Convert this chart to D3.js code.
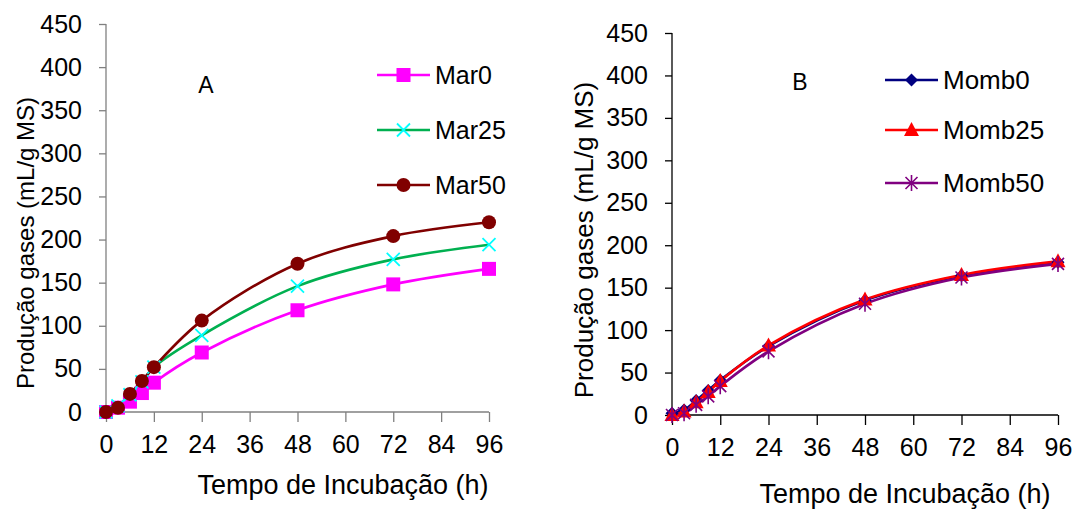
<!DOCTYPE html>
<html><head><meta charset="utf-8">
<script src="https://cdn.jsdelivr.net/npm/d3@7"></script>
<style>body{margin:0;background:#fff}svg{font-family:"Liberation Sans",Arial,sans-serif}</style>
</head><body>
<svg id="c" width="1077" height="519"></svg>
<script>
const times = [0, 3, 6, 9, 12, 24, 48, 72, 96];
const xTicks = [0, 12, 24, 36, 48, 60, 72, 84, 96];
const yTicks = [0, 50, 100, 150, 200, 250, 300, 350, 400, 450];
const mar0 = [0, 5, 12, 22, 34, 69, 118, 148, 166];
const mar25 = [0, 7, 20, 35, 52, 89, 146, 177, 194];
const mar50 = [0, 5, 21, 36, 52, 106, 172, 204, 220];
const momb0 = [2, 6, 17, 29, 41, 81, 135, 164, 180];
const momb25 = [0, 4, 15, 27, 40, 82, 136, 165, 181];
const momb50 = [0, 2, 12, 22, 34, 75, 131, 162, 178];
const seriesA = ["Mar0", "Mar25", "Mar50"];
const seriesB = ["Momb0", "Momb25", "Momb50"];
const yTitle = "Produção gases (mL/g MS)";
const xTitle = "Tempo de Incubação (h)";

const svg = d3.select("#c");

function marker(g, type, color, cx, cy) {
  if (type === "square") {
    g.append("rect").attr("x", cx - 7).attr("y", cy - 7).attr("width", 14).attr("height", 14).attr("fill", color);
  } else if (type === "circle") {
    g.append("circle").attr("cx", cx).attr("cy", cy).attr("r", 7).attr("fill", color);
  } else if (type === "x") {
    g.append("path").attr("d", `M${cx-6.5},${cy-6.5}L${cx+6.5},${cy+6.5}M${cx-6.5},${cy+6.5}L${cx+6.5},${cy-6.5}`)
      .attr("stroke", color).attr("stroke-width", 1.8).attr("fill", "none");
  } else if (type === "diamond") {
    g.append("path").attr("d", `M${cx},${cy-6.5}L${cx+6.5},${cy}L${cx},${cy+6.5}L${cx-6.5},${cy}Z`).attr("fill", color);
  } else if (type === "triangle") {
    g.append("path").attr("d", `M${cx},${cy-8}L${cx+7.5},${cy+6}L${cx-7.5},${cy+6}Z`).attr("fill", color);
  } else if (type === "star") {
    g.append("path").attr("d", `M${cx-6},${cy-6}L${cx+6},${cy+6}M${cx-6},${cy+6}L${cx+6},${cy-6}M${cx},${cy-8}L${cx},${cy+8}`)
      .attr("stroke", color).attr("stroke-width", 1.6).attr("fill", "none");
  }
}

function panel(cfg) {
  const x = d3.scaleLinear().domain([0, 96]).range([cfg.x0, cfg.x1]);
  const y = d3.scaleLinear().domain([0, 450]).range([cfg.y0, cfg.y1]);
  const g = svg.append("g");

  const ya = g.append("g").attr("transform", `translate(${cfg.x0},0)`)
    .call(d3.axisLeft(y).tickValues(yTicks).tickSize(7).tickPadding(17).tickFormat(d3.format("d")));
  const xa = g.append("g").attr("transform", `translate(0,${cfg.y0})`)
    .call(d3.axisBottom(x).tickValues(xTicks).tickSize(10).tickPadding(cfg.xPad).tickFormat(d3.format("d")));
  [ya, xa].forEach(a => {
    a.select(".domain").attr("stroke", cfg.axisColor).attr("stroke-width", 1.3);
    a.selectAll(".tick line").attr("stroke", cfg.axisColor).attr("stroke-width", 1.3);
    a.selectAll("text").attr("font-size", cfg.fs).attr("fill", "#000").attr("font-family", "Liberation Sans, Arial, sans-serif");
  });
  xa.select(".domain").attr("d", `M${cfg.x0},0H${cfg.x1}`);
  ya.select(".domain").attr("d", `M0,${cfg.y0}V${cfg.y1}`);

  const line = d3.line().x((d, i) => x(times[i])).y(d => y(d)).curve(d3.curveCatmullRom.alpha(0.5));

  cfg.series.forEach(s => {
    g.append("path").datum(s.values).attr("d", line).attr("fill", "none")
      .attr("stroke", s.line).attr("stroke-width", 2.6);
  });
  cfg.series.forEach(s => {
    const mg = g.append("g");
    s.values.forEach((v, i) => marker(mg, s.marker, s.mcolor, x(times[i]), y(v)));
  });

  cfg.series.forEach((s, i) => {
    const ly = cfg.legY[i];
    g.append("line").attr("x1", cfg.legX).attr("x2", cfg.legX + 53).attr("y1", ly).attr("y2", ly)
      .attr("stroke", s.line).attr("stroke-width", 2.6);
    const mg = g.append("g");
    marker(mg, s.marker, s.mcolor, cfg.legX + 26.5, ly);
    g.append("text").attr("x", cfg.legX + 58).attr("y", ly).attr("dy", "0.35em")
      .attr("font-size", cfg.legFs).text(s.name);
  });

  g.append("text").attr("x", cfg.lab[0]).attr("y", cfg.lab[1]).attr("font-size", 23).attr("text-anchor", "middle").text(cfg.label);
  g.append("text").attr("transform", `translate(${cfg.yt[0]},${cfg.yt[1]}) rotate(-90)`)
    .attr("text-anchor", "middle").attr("dy", "0.35em").attr("font-size", cfg.ytFs).text(yTitle);
  g.append("text").attr("x", cfg.xt[0]).attr("y", cfg.xt[1]).attr("text-anchor", "middle")
    .attr("font-size", 27).text(xTitle);
}

panel({
  x0: 106, x1: 489, y0: 412, y1: 24, axisColor: "#808080", fs: 25, legFs: 25, ytFs: 24, xPad: 13,
  legX: 377, legY: [75, 130, 185], label: "A", lab: [206, 93],
  yt: [26, 243], xt: [343, 494],
  series: [
    {name: seriesA[0], values: mar0, line: "#FF00FF", mcolor: "#FF00FF", marker: "square"},
    {name: seriesA[1], values: mar25, line: "#00B050", mcolor: "#00FFFF", marker: "x"},
    {name: seriesA[2], values: mar50, line: "#800000", mcolor: "#800000", marker: "circle"}
  ]
});
panel({
  x0: 672, x1: 1058, y0: 415, y1: 33, axisColor: "#000", fs: 25, legFs: 26, ytFs: 26, xPad: 13,
  legX: 885, legY: [80, 130, 183], label: "B", lab: [800, 90],
  yt: [584, 240], xt: [905, 503],
  series: [
    {name: seriesB[0], values: momb0, line: "#000080", mcolor: "#000080", marker: "diamond"},
    {name: seriesB[1], values: momb25, line: "#FF0000", mcolor: "#FF0000", marker: "triangle"},
    {name: seriesB[2], values: momb50, line: "#800080", mcolor: "#800080", marker: "star"}
  ]
});
</script>
</body></html>
